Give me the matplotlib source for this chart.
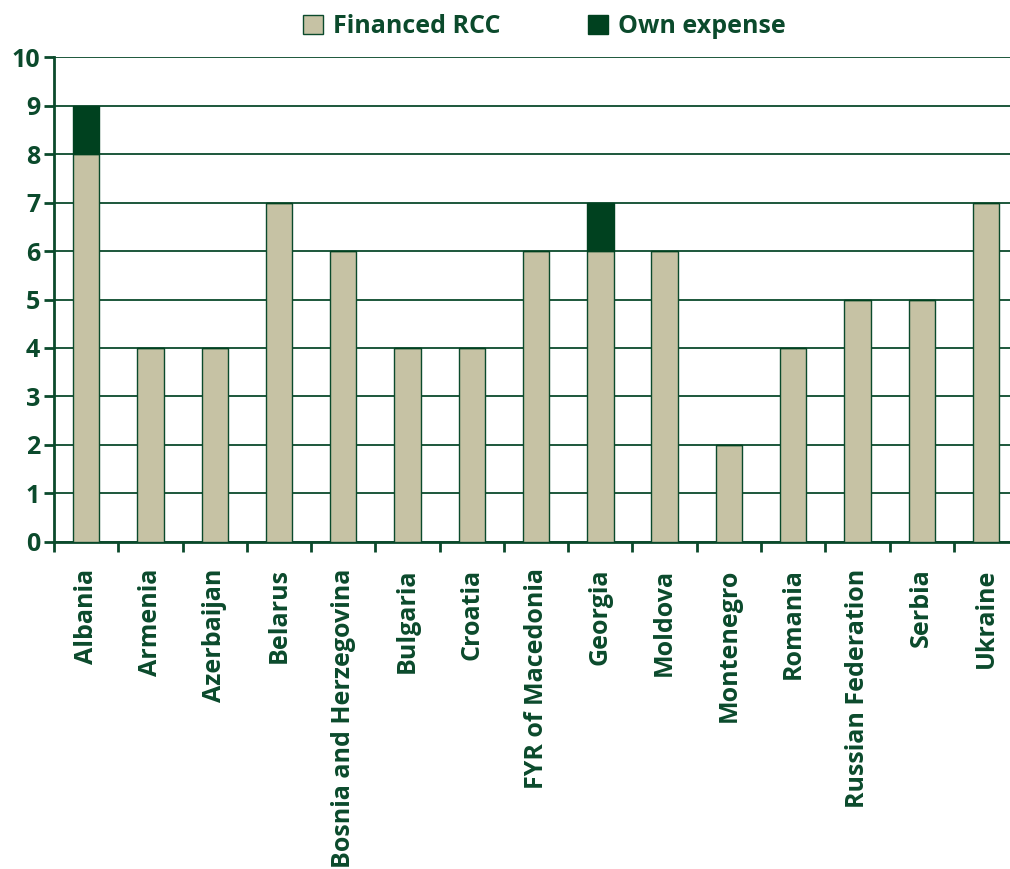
import numpy as np
from matplotlib import pyplot as plt

countries = ["Albania", "Armenia", "Azerbaijan", "Belarus",
             "Bosnia and Herzegovina", "Bulgaria", "Croatia",
             "FYR of Macedonia", "Georgia", "Moldova", "Montenegro",
             "Romania", "Russian Federation", "Serbia", "Ukraine"]
financed_rcc = [8, 4, 4, 7, 6, 4, 4, 6, 6, 6, 2, 4, 5, 5, 7]
own_expense = [1, 0, 0, 0, 0, 0, 0, 0, 1, 0, 0, 0, 0, 0, 0]

green = "#0b4a2c"
dark = "#00411f"
beige = "#c6c2a4"

plt.rcParams['font.family'] = ['Open Sans', 'DejaVu Sans']
plt.rcParams['font.weight'] = 'bold'

fig = plt.figure(figsize=(10.1, 8.69), dpi=100)
# axes runs a bit past the right edge of the figure, like the original
ax = fig.add_axes([0.0535, 0.3763, 0.9545, 0.5581])

x = np.arange(len(countries))
ax.bar(x, financed_rcc, width=0.41, color=beige, edgecolor=green,
       linewidth=1, label="Financed RCC", zorder=3)
ax.bar(x, own_expense, width=0.41, bottom=financed_rcc, color=dark,
       edgecolor=dark, linewidth=1, label="Own expense", zorder=3)

ax.set_xlim(-0.5, len(countries) - 0.5)
ax.set_ylim(0, 10)
ax.set_yticks(range(0, 11))
ax.yaxis.grid(True, color=green, linewidth=1.3, zorder=0)
ax.set_axisbelow(True)

ax.set_xticks(x)
ax.set_xticklabels(countries, rotation=90, fontsize=18, color=green,
                   fontweight='bold')
ax.set_xticks(np.arange(-0.5, len(countries)), minor=True)
ax.tick_params(axis='x', which='major', length=0, pad=19)
ax.tick_params(axis='x', which='minor', length=7, width=2, color=green,
               direction='out')
ax.tick_params(axis='y', length=7, width=2, color=green, labelsize=18,
               labelcolor=green, pad=3)
for lab in ax.get_yticklabels():
    lab.set_fontweight('bold')

for side in ['top', 'right']:
    ax.spines[side].set_visible(False)
for side in ['left', 'bottom']:
    ax.spines[side].set_color(green)
    ax.spines[side].set_linewidth(2)

leg = fig.legend(loc='upper center', bbox_to_anchor=(0.5385, 1.01), ncol=2,
                 frameon=False, fontsize=18, handlelength=0.8,
                 handleheight=0.8, columnspacing=3.5, handletextpad=0.4)
for t in leg.get_texts():
    t.set_color(green)
    t.set_fontweight('bold')

fig.savefig("out.png", dpi=100)
